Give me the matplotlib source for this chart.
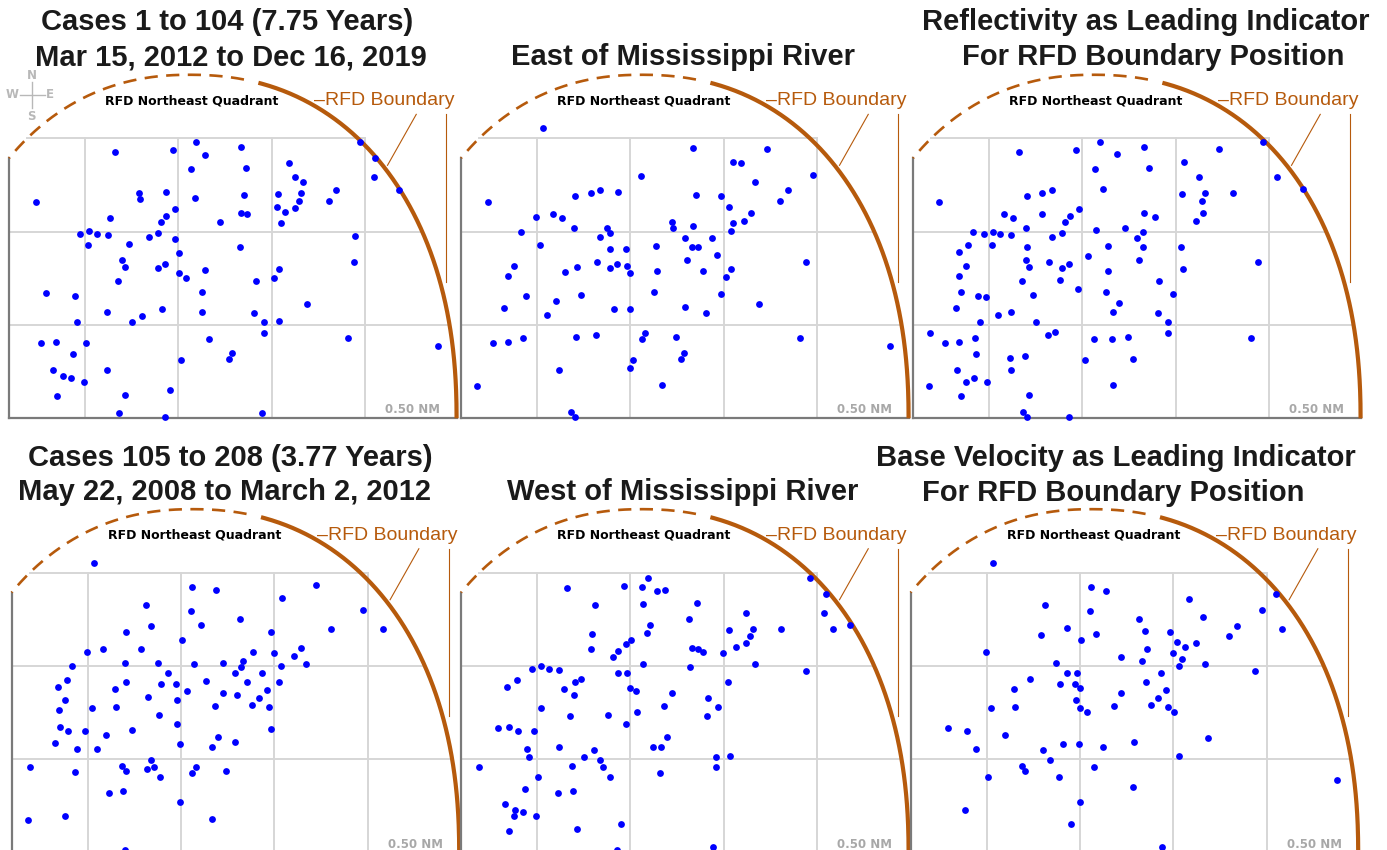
import numpy as np
import matplotlib
matplotlib.use("Agg")
import matplotlib.pyplot as plt

# RFD boundary quadrant plots: dot positions in NM (grid spacing 0.5 NM)
p1_x = [0.236, 0.663, 0.970, 1.096, 1.143, 1.070, 1.334, 1.363, 1.973, 2.055,
        2.045, 2.184, 1.591, 1.627, 1.668, 1.846, 1.804, 1.659, 1.645, 1.627,
        1.534, 1.529, 1.570, 1.550, 1.350, 1.334, 1.368, 1.225, 1.091, 0.791,
        0.795, 0.934, 0.632, 0.934, 0.980, 0.909, 0.475, 0.523, 0.564, 0.621,
        0.516, 0.841, 0.893, 0.984, 0.738, 1.002, 1.329, 1.946, 1.941, 0.700,
        0.716, 0.679, 0.891, 0.929, 1.002, 1.039, 1.143, 1.414, 1.513, 1.539,
        0.293, 0.445, 1.125, 1.691, 0.620, 0.455, 0.754, 0.804, 0.914, 1.125,
        1.407, 1.461, 1.539, 1.459, 0.266, 0.345, 0.505, 0.434, 1.163, 1.909,
        2.389, 1.289, 1.273, 1.016, 0.329, 0.380, 0.423, 0.493, 0.620, 0.955,
        0.350, 0.716, 0.684, 0.929, 1.446]
p1_y = [1.157, 1.425, 1.436, 1.479, 1.411, 1.336, 1.452, 1.343, 1.479, 1.395,
        1.291, 1.225, 1.368, 1.291, 1.268, 1.223, 1.164, 1.205, 1.164, 1.129,
        1.200, 1.134, 1.107, 1.045, 1.195, 1.100, 1.096, 1.054, 1.180, 1.209,
        1.175, 1.211, 1.075, 1.086, 1.121, 1.054, 0.986, 1.002, 0.986, 0.980,
        0.929, 0.970, 0.991, 0.963, 0.934, 0.888, 0.918, 0.975, 0.839, 0.850,
        0.813, 0.736, 0.807, 0.829, 0.777, 0.754, 0.793, 0.736, 0.754, 0.798,
        0.671, 0.655, 0.677, 0.614, 0.568, 0.514, 0.514, 0.550, 0.584, 0.568,
        0.563, 0.514, 0.520, 0.457, 0.404, 0.409, 0.404, 0.343, 0.425, 0.430,
        0.389, 0.352, 0.316, 0.311, 0.259, 0.227, 0.216, 0.196, 0.259, 0.154,
        0.118, 0.127, 0.030, 0.005, 0.029]

p2_x = [0.532, 0.236, 1.334, 1.730, 1.548, 1.593, 1.980, 1.057, 1.668, 1.846,
        1.802, 1.350, 1.486, 1.527, 1.646, 1.609, 1.548, 1.538, 0.704, 0.788,
        0.839, 0.934, 0.495, 0.584, 0.632, 0.698, 0.414, 0.875, 0.893, 0.839,
        1.223, 1.229, 1.334, 0.516, 0.893, 0.975, 1.138, 1.293, 1.329, 1.361,
        1.439, 1.464, 1.304, 0.375, 0.343, 0.652, 0.713, 0.821, 0.891, 0.929,
        0.982, 1.000, 1.141, 1.388, 1.538, 1.511, 1.939, 0.443, 0.600, 0.736,
        1.125, 1.486, 0.321, 0.552, 0.911, 0.996, 1.293, 1.407, 1.689, 0.264,
        0.343, 0.427, 0.707, 0.816, 1.079, 1.063, 1.245, 1.907, 2.388, 1.288,
        1.271, 1.014, 0.998, 0.618, 0.177, 1.168, 0.682, 0.704]
p2_y = [1.555, 1.157, 1.450, 1.441, 1.371, 1.366, 1.305, 1.300, 1.268, 1.221,
        1.164, 1.195, 1.189, 1.132, 1.102, 1.059, 1.045, 1.005, 1.191, 1.205,
        1.221, 1.211, 1.080, 1.096, 1.075, 1.021, 1.000, 1.021, 0.991, 0.970,
        1.054, 1.021, 1.032, 0.929, 0.907, 0.907, 0.925, 0.964, 0.918, 0.918,
        0.964, 0.875, 0.850, 0.818, 0.764, 0.782, 0.813, 0.839, 0.807, 0.829,
        0.818, 0.777, 0.791, 0.791, 0.798, 0.755, 0.839, 0.655, 0.630, 0.661,
        0.677, 0.666, 0.589, 0.555, 0.584, 0.584, 0.595, 0.563, 0.614, 0.404,
        0.409, 0.432, 0.438, 0.448, 0.459, 0.427, 0.438, 0.430, 0.389, 0.352,
        0.316, 0.311, 0.270, 0.259, 0.175, 0.180, 0.032, 0.009]

p3_x = [0.234, 0.661, 0.968, 1.095, 1.188, 1.068, 1.332, 1.359, 1.730, 1.970,
        1.546, 1.625, 2.041, 2.184, 1.109, 1.532, 1.657, 1.807, 1.641, 1.645,
        1.609, 1.332, 1.391, 0.702, 0.786, 0.838, 0.582, 0.629, 0.786, 0.980,
        0.932, 0.905, 0.698, 0.416, 0.473, 0.521, 0.561, 0.620, 0.891, 0.839,
        1.073, 1.229, 1.323, 1.291, 1.327, 1.527, 0.389, 0.338, 0.514, 0.702,
        1.136, 1.030, 0.375, 0.341, 0.698, 0.713, 0.823, 0.889, 0.927, 1.139,
        1.302, 1.538, 1.939, 0.677, 0.880, 1.411, 0.348, 0.441, 0.484, 0.736,
        0.979, 1.125, 1.198, 1.484, 0.323, 0.550, 0.620, 0.452, 0.750, 1.166,
        1.404, 1.457, 1.457, 0.186, 0.263, 0.341, 0.427, 0.816, 0.854, 1.061,
        1.161, 1.245, 1.905, 0.430, 0.613, 0.691, 1.014, 1.271, 0.327, 0.616,
        0.375, 0.421, 0.489, 0.177, 1.166, 0.348, 0.713, 0.682, 0.702, 0.927]
p3_y = [1.157, 1.425, 1.436, 1.479, 1.414, 1.336, 1.452, 1.343, 1.441, 1.479,
        1.373, 1.291, 1.291, 1.227, 1.227, 1.200, 1.205, 1.205, 1.164, 1.102,
        1.059, 1.102, 1.080, 1.189, 1.205, 1.221, 1.096, 1.075, 1.096, 1.121,
        1.086, 1.054, 1.021, 1.000, 0.986, 1.000, 0.986, 0.980, 0.991, 0.970,
        1.011, 1.021, 0.996, 0.964, 0.918, 0.918, 0.929, 0.893, 0.929, 0.918,
        0.925, 0.871, 0.818, 0.764, 0.850, 0.813, 0.839, 0.807, 0.829, 0.791,
        0.850, 0.798, 0.839, 0.736, 0.739, 0.736, 0.677, 0.655, 0.650, 0.661,
        0.693, 0.677, 0.620, 0.666, 0.589, 0.555, 0.568, 0.514, 0.514, 0.568,
        0.563, 0.514, 0.457, 0.457, 0.404, 0.409, 0.432, 0.448, 0.461, 0.427,
        0.427, 0.438, 0.430, 0.343, 0.321, 0.332, 0.311, 0.316, 0.259, 0.259,
        0.196, 0.216, 0.196, 0.175, 0.180, 0.118, 0.127, 0.032, 0.009, 0.005]

p4_x = [0.532, 1.061, 1.186, 1.725, 1.543, 1.973, 2.084, 0.811, 1.055, 1.107,
        1.314, 0.839, 0.704, 1.802, 1.482, 1.004, 0.495, 0.584, 0.788, 1.388,
        1.496, 1.641, 1.605, 1.670, 1.534, 0.698, 0.875, 1.071, 1.227, 1.330,
        1.320, 0.418, 0.930, 1.289, 1.434, 0.391, 0.339, 0.704, 0.891, 0.973,
        1.134, 1.355, 1.523, 0.646, 1.030, 1.459, 0.377, 0.823, 0.979, 1.223,
        1.300, 1.418, 0.345, 0.521, 0.650, 1.180, 1.382, 1.470, 0.880, 0.979,
        0.350, 0.396, 0.486, 0.736, 1.480, 0.600, 1.196, 1.289, 0.325, 0.443,
        0.552, 0.993, 1.164, 0.189, 0.430, 0.684, 0.707, 0.838, 0.818, 0.854,
        0.889, 1.061, 1.079, 1.241, 0.614, 0.691, 0.996, 0.180, 0.377, 1.164,
        0.702]
p4_y = [1.550, 1.423, 1.409, 1.434, 1.366, 1.298, 1.196, 1.325, 1.293, 1.220,
        1.252, 1.216, 1.184, 1.200, 1.184, 1.138, 1.075, 1.093, 1.093, 1.075,
        1.070, 1.096, 1.055, 1.009, 1.002, 1.018, 1.018, 1.009, 1.018, 1.029,
        0.993, 0.998, 0.961, 0.961, 0.961, 0.925, 0.888, 0.914, 0.904, 0.904,
        0.920, 0.914, 0.914, 0.877, 0.868, 0.873, 0.816, 0.836, 0.816, 0.857,
        0.846, 0.830, 0.764, 0.773, 0.779, 0.784, 0.789, 0.779, 0.738, 0.691,
        0.675, 0.650, 0.650, 0.659, 0.664, 0.629, 0.618, 0.591, 0.588, 0.555,
        0.555, 0.580, 0.566, 0.457, 0.430, 0.463, 0.436, 0.498, 0.446, 0.461,
        0.405, 0.425, 0.457, 0.436, 0.321, 0.330, 0.270, 0.175, 0.196, 0.180,
        0.014]

p5_x = [0.663, 0.968, 1.061, 1.093, 1.141, 1.188, 1.066, 0.811, 1.357, 1.314,
        1.621, 1.963, 2.048, 2.038, 2.084, 2.175, 1.804, 1.529, 1.654, 1.638,
        1.620, 1.564, 1.496, 1.668, 1.939, 1.107, 1.088, 0.793, 0.788, 0.977,
        1.005, 0.932, 0.905, 1.330, 1.363, 1.391, 1.070, 1.320, 0.475, 0.521,
        0.564, 0.620, 0.932, 0.984, 0.341, 0.393, 0.704, 0.736, 0.646, 0.700,
        0.998, 1.032, 1.221, 1.521, 1.418, 0.521, 0.679, 0.880, 1.036, 1.180,
        1.470, 1.409, 0.979, 0.293, 0.352, 0.398, 0.486, 1.196, 1.123, 1.166,
        0.618, 0.445, 0.455, 0.804, 0.752, 0.838, 1.457, 1.536, 0.191, 0.689,
        0.855, 1.457, 0.507, 0.891, 1.159, 0.436, 0.614, 0.693, 0.330, 0.382,
        0.377, 0.423, 0.493, 0.952, 0.352, 0.714, 1.441, 0.927]
p5_y = [1.418, 1.429, 1.423, 1.470, 1.404, 1.409, 1.330, 1.325, 1.336, 1.252,
        1.284, 1.471, 1.388, 1.284, 1.196, 1.220, 1.200, 1.195, 1.200, 1.159,
        1.121, 1.102, 1.070, 1.009, 0.971, 1.221, 1.175, 1.170, 1.093, 1.116,
        1.138, 1.080, 1.050, 1.096, 1.091, 1.075, 1.009, 0.993, 0.982, 0.998,
        0.982, 0.977, 0.961, 0.961, 0.888, 0.925, 0.914, 0.929, 0.877, 0.846,
        0.884, 0.868, 0.857, 0.914, 0.830, 0.773, 0.732, 0.738, 0.752, 0.784,
        0.779, 0.732, 0.691, 0.670, 0.675, 0.650, 0.650, 0.618, 0.566, 0.566,
        0.566, 0.555, 0.514, 0.550, 0.514, 0.498, 0.514, 0.520, 0.457, 0.463,
        0.461, 0.457, 0.405, 0.405, 0.425, 0.343, 0.321, 0.330, 0.259, 0.227,
        0.196, 0.216, 0.196, 0.155, 0.118, 0.129, 0.032, 0.014]

p6_x = [0.532, 1.061, 1.139, 1.586, 2.048, 1.973, 2.084, 0.811, 1.055, 1.314,
        1.661, 1.839, 1.796, 0.932, 0.791, 1.086, 1.346, 1.482, 1.004, 1.521,
        1.564, 1.620, 1.361, 0.496, 1.221, 1.496, 1.545, 1.330, 1.532, 1.668,
        1.939, 0.873, 0.930, 0.982, 1.434, 0.734, 0.891, 0.971, 0.998, 1.355,
        0.646, 1.220, 1.461, 1.418, 0.979, 0.521, 0.650, 0.998, 1.036, 1.180,
        1.380, 1.470, 1.505, 0.293, 0.396, 0.598, 1.684, 1.289, 0.909, 0.993,
        1.121, 0.445, 0.802, 0.839, 1.532, 0.688, 0.707, 1.077, 0.505, 0.889,
        1.284, 2.379, 0.998, 0.382, 0.950, 1.439]
p6_y = [1.550, 1.423, 1.404, 1.361, 1.388, 1.298, 1.196, 1.325, 1.293, 1.252,
        1.263, 1.216, 1.159, 1.205, 1.168, 1.173, 1.189, 1.184, 1.138, 1.127,
        1.102, 1.121, 1.091, 1.075, 1.050, 1.070, 1.039, 1.029, 1.002, 1.009,
        0.971, 1.018, 0.961, 0.961, 0.961, 0.930, 0.904, 0.904, 0.884, 0.914,
        0.877, 0.857, 0.873, 0.830, 0.816, 0.773, 0.779, 0.773, 0.754, 0.784,
        0.789, 0.779, 0.754, 0.670, 0.650, 0.629, 0.613, 0.591, 0.580, 0.580,
        0.566, 0.555, 0.550, 0.498, 0.518, 0.463, 0.436, 0.457, 0.405, 0.405,
        0.352, 0.388, 0.270, 0.227, 0.155, 0.032]

# title lines: (text, centre x px, centre y px)
titles = [
    ("Cases 1 to 104 (7.75 Years)", 227, 22.5),
    ("Mar 15, 2012 to Dec 16, 2019", 231, 57),
    ("East of Mississippi River", 683, 57),
    ("Reflectivity as Leading Indicator", 1146, 22.5),
    ("For RFD Boundary Position", 1153, 57),
    ("Cases 105 to 208 (3.77 Years)", 230, 458),
    ("May 22, 2008 to March 2, 2012", 225, 492),
    ("West of Mississippi River", 683, 492),
    ("Base Velocity as Leading Indicator", 1116, 458),
    ("For RFD Boundary Position", 1113, 493),
]

W, H = 1387, 850
PX = 186.7  # pixels per NM

# (x, y, origin px x, origin px y, draw compass)
panels = [
    (p1_x, p1_y, -8.3, 418.3, True),
    (p2_x, p2_y, 443.7, 418.3, False),
    (p3_x, p3_y, 895.7, 418.3, False),
    (p4_x, p4_y, -5.7, 852.7, False),
    (p5_x, p5_y, 443.7, 852.7, False),
    (p6_x, p6_y, 893.3, 852.7, False),
]

BROWN = "#b65a0c"
GRID = "#d6d6d6"
FRAME = "#7a7a7a"
cx, a_r, a_l, b, n = 1.06, 1.43, 1.38, 1.84, 2.2
x_left = 0.093


def arc_xy(t):
    c, s = np.cos(t), np.sin(t)
    a = np.where(c >= 0, a_r, a_l)
    x = cx + a * np.sign(c) * np.abs(c) ** (2 / n)
    y = b * np.sign(s) * np.abs(s) ** (2 / n)
    return x, y


def arc_half(y):
    return (1 - (y / b) ** n) ** (1 / n)


fig = plt.figure(figsize=(W / 100, H / 100), dpi=100)
fig.patch.set_facecolor("white")

XMIN, XMAX, YMIN, YMAX = 0.0, 2.56, -0.06, 1.95

for xs, ys, x0, y0, compass in panels:
    ax = fig.add_axes([(x0 + XMIN * PX) / W, 1 - (y0 - YMIN * PX) / H,
                       (XMAX - XMIN) * PX / W, (YMAX - YMIN) * PX / H])
    ax.set_xlim(XMIN, XMAX)
    ax.set_ylim(YMIN, YMAX)
    ax.axis("off")
    ax.patch.set_alpha(0)

    # grid
    for gx in [0.5, 1.0, 1.5, 2.0]:
        ax.plot([gx, gx], [0, 1.5], color=GRID, lw=1.4, zorder=1)
    ax.plot([cx - a_l * arc_half(1.5), 2.0], [1.5, 1.5], color=GRID, lw=1.4, zorder=1)
    for gy in [0.5, 1.0]:
        ax.plot([x_left, cx + a_r * arc_half(gy)], [gy, gy], color=GRID, lw=1.4, zorder=1)

    # frame
    y_top = b * (1 - ((cx - x_left) / a_l) ** n) ** (1 / n)
    ax.plot([x_left, x_left], [0, y_top], color=FRAME, lw=1.6, zorder=2)
    ax.plot([x_left, cx + a_r], [0, 0], color=FRAME, lw=1.6, zorder=2)

    # boundary arc
    t_left = np.pi - np.arccos(((cx - x_left) / a_l) ** (n / 2))
    ts = np.linspace(0, np.radians(77), 300)
    ax.plot(*arc_xy(ts), color=BROWN, lw=3.0, solid_capstyle="butt", zorder=3)
    td = np.linspace(np.radians(80), t_left, 300)
    ax.plot(*arc_xy(td), color=BROWN, lw=1.9, dashes=(5, 3.2), zorder=3)

    # leader lines
    ax.plot([2.274, 2.120], [1.628, 1.355], color=BROWN, lw=0.8, zorder=3)
    ax.plot([2.435, 2.435], [1.628, 0.732], color=BROWN, lw=0.8, zorder=3)

    ax.text(1.071, 1.700, "RFD Northeast Quadrant", ha="center", va="center",
            fontsize=9, fontweight="bold", family="DejaVu Sans", color="black")
    ax.text(1.728, 1.700, "\u2013RFD Boundary", ha="left", va="center",
            fontsize=14, family="Liberation Sans", color=BROWN)
    ax.text(2.401, 0.045, "0.50 NM", ha="right", va="center", fontsize=8.5,
            fontweight="bold", family="DejaVu Sans", color="#a8a8a8")

    if compass:
        cc = "#b8b8b8"
        ax.plot([0.151, 0.285], [1.732, 1.732], color=cc, lw=1.0)
        ax.plot([0.216, 0.216], [1.662, 1.800], color=cc, lw=1.0)
        for lab, lx, ly in [("N", 0.216, 1.835), ("S", 0.210, 1.615),
                            ("W", 0.112, 1.732), ("E", 0.312, 1.732)]:
            ax.text(lx, ly, lab, ha="center", va="center", fontsize=8.5,
                    fontweight="bold", color=cc)

    ax.scatter(xs, ys, s=24, color="#0000ff", linewidths=0, zorder=5)

for txt, tx, ty in titles:
    fig.text(tx / W, 1 - ty / H, txt, ha="center", va="center", fontsize=21,
             fontweight="bold", family="Liberation Sans", color="#1a1a1a")

fig.savefig("out.png", dpi=100, facecolor="white")
